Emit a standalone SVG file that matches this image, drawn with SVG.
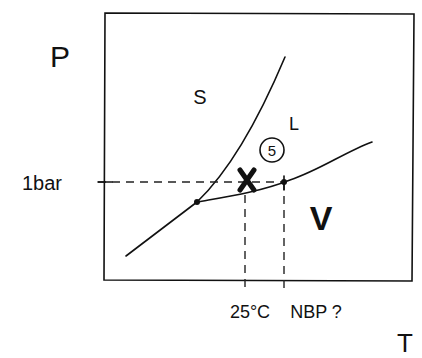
<svg xmlns="http://www.w3.org/2000/svg" width="422" height="358" viewBox="0 0 422 358">
<style>
.ln{fill:none;stroke:#111;stroke-width:1.6;stroke-linecap:round}
.ds{fill:none;stroke:#222;stroke-width:1.4;stroke-dasharray:8,6}
.t{font-family:"Liberation Sans",Arial,sans-serif;fill:#111}
</style>
<rect width="422" height="358" fill="#fff"/>
<g id="frame">
<path class="ln" d="M105,13 L414,14 L412,281 L104,280 Z" stroke-width="2"/>
</g>
<g id="connectors">
<path class="ln" d="M126,256 L197,202"/>
<path class="ln" d="M197,202 C220,180 250,140 285,57"/>
<path class="ln" d="M197,202 C225,197 260,192 290,180 C320,170 345,152 372,142"/>
<path class="ds" d="M98,182 L283,182"/>
<path class="ln" d="M98,182 L112,182"/>
<path class="ds" d="M245,195 L245,288"/>
<path class="ds" d="M284,182 L284,288"/>
</g>
<g id="triple"><circle cx="197" cy="202" r="3" fill="#111"/></g>
<g id="nbp"><circle cx="284" cy="182" r="3" fill="#111"/><path class="ln" d="M284,176 L284,190"/></g>
<g id="cross"><path d="M240,170 L254,190 M254,170 L240,190" stroke="#111" stroke-width="5" stroke-linecap="round"/></g>
<g id="label5"><circle class="ln" cx="272" cy="150" r="12"/><text class="t" x="272" y="156" font-size="15" text-anchor="middle">5</text></g>
<g id="labels">
<text class="t" x="60" y="67" font-size="30" text-anchor="middle">P</text>
<text class="t" x="200" y="104" font-size="20" text-anchor="middle">S</text>
<text class="t" x="294" y="130" font-size="18" text-anchor="middle">L</text>
<text class="t" x="42" y="190" font-size="20" text-anchor="middle">1bar</text>
<text class="t" x="321" y="230" font-size="34" font-weight="bold" text-anchor="middle">V</text>
<text class="t" x="250" y="318" font-size="18" text-anchor="middle">25°C</text>
<text class="t" x="316" y="318" font-size="18" text-anchor="middle">NBP ?</text>
<text class="t" x="405" y="352" font-size="26" text-anchor="middle">T</text>
</g>
</svg>
